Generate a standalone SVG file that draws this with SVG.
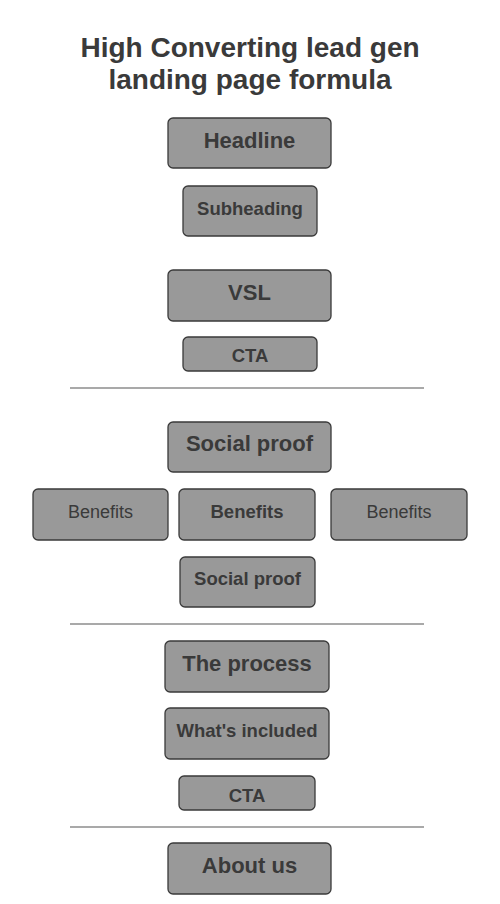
<svg xmlns="http://www.w3.org/2000/svg" width="500" height="904" viewBox="0 0 500 904">
<style>
.box{fill:#999999;stroke:#3a3a3a;stroke-width:1.3}
.t{font-family:"Liberation Sans",Arial,sans-serif;fill:#3a3a3a;text-anchor:middle}
.b{font-weight:bold}
.l{font-size:22px}
.s{font-size:18.5px}
.n{font-size:18px;font-weight:normal}
.title{font-size:28px;font-weight:bold}
.sep{stroke:#555555;stroke-width:1.2}
</style>
<rect width="500" height="904" fill="#ffffff"/>
<g id="title">
<text class="t title" x="250" y="57">High Converting lead gen</text>
<text class="t title" x="250" y="88.5">landing page formula</text>
</g>
<g id="connectors">
<line class="sep" x1="70" y1="388" x2="424" y2="388"/>
<line class="sep" x1="70" y1="624" x2="424" y2="624"/>
<line class="sep" x1="70" y1="827" x2="424" y2="827"/>
</g>
<g id="headline"><rect class="box" x="168" y="118" width="163" height="50" rx="5"/><text class="t b l" x="249.5" y="148">Headline</text></g>
<g id="subheading"><rect class="box" x="183" y="186" width="134" height="50" rx="5"/><text class="t b s" x="250" y="215">Subheading</text></g>
<g id="vsl"><rect class="box" x="168" y="270" width="163" height="51" rx="5"/><text class="t b l" x="249.5" y="300">VSL</text></g>
<g id="cta1"><rect class="box" x="183" y="337" width="134" height="34" rx="5"/><text class="t b s" x="250" y="361.5">CTA</text></g>
<g id="socialproof1"><rect class="box" x="168" y="422" width="163" height="50" rx="5"/><text class="t b l" x="249.5" y="451">Social proof</text></g>
<g id="benefits-left"><rect class="box" x="33" y="489" width="135" height="51" rx="5"/><text class="t n" x="100.5" y="518">Benefits</text></g>
<g id="benefits-mid"><rect class="box" x="179" y="489" width="136" height="51" rx="5"/><text class="t b s" x="247" y="518">Benefits</text></g>
<g id="benefits-right"><rect class="box" x="331" y="489" width="136" height="51" rx="5"/><text class="t n" x="399" y="518">Benefits</text></g>
<g id="socialproof2"><rect class="box" x="180" y="557" width="135" height="50" rx="5"/><text class="t b s" x="247.5" y="585">Social proof</text></g>
<g id="process"><rect class="box" x="165" y="641" width="164" height="51" rx="5"/><text class="t b l" x="247" y="670.5">The process</text></g>
<g id="included"><rect class="box" x="165" y="708" width="164" height="51" rx="5"/><text class="t b s" x="247" y="737">What's included</text></g>
<g id="cta2"><rect class="box" x="179" y="776" width="136" height="34" rx="5"/><text class="t b s" x="247" y="801.5">CTA</text></g>
<g id="about"><rect class="box" x="168" y="843" width="163" height="51" rx="5"/><text class="t b l" x="249.5" y="873">About us</text></g>
</svg>
